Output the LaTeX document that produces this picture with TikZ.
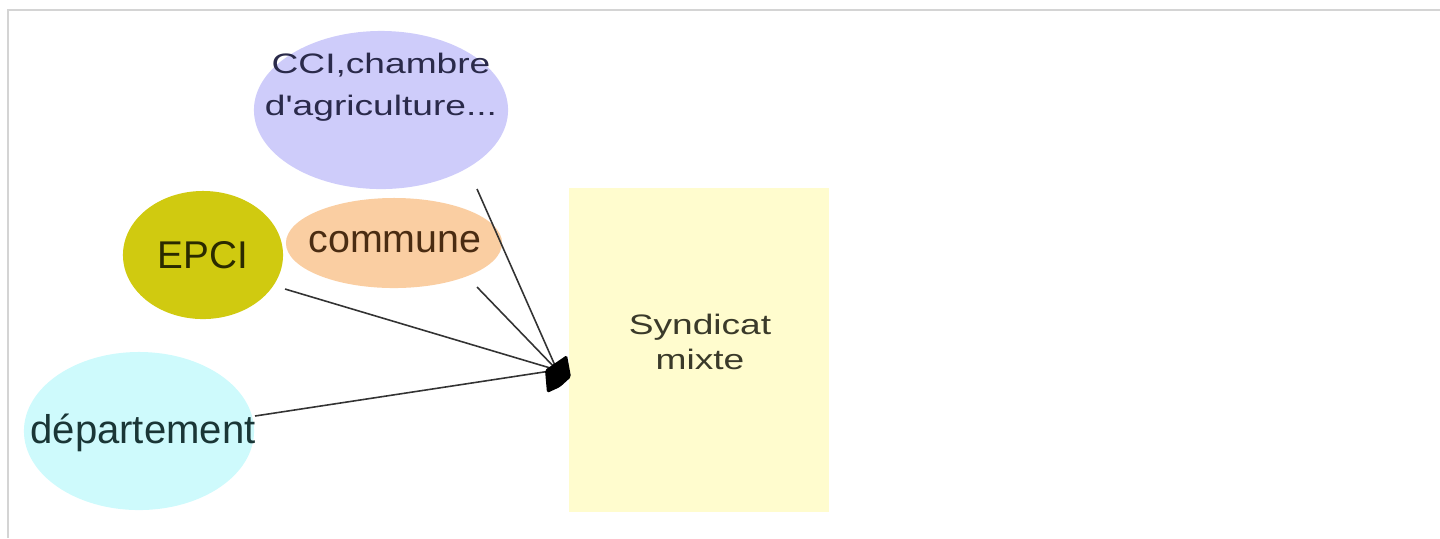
\documentclass[tikz,border=0pt]{standalone}
\usepackage{fontspec}
\setmainfont{Liberation Sans}
\newfontfamily\widefont[FakeStretch=1.32]{Liberation Sans}
\usetikzlibrary{shapes.geometric}

\definecolor{ccicol}{RGB}{206,204,250}
\definecolor{communecol}{RGB}{250,206,162}
\definecolor{epcicol}{RGB}{208,202,16}
\definecolor{deptcol}{RGB}{206,250,252}
\definecolor{syndcol}{RGB}{255,252,206}
\definecolor{framecol}{RGB}{212,212,212}

\tikzset{
  bubble/.style={ellipse, inner sep=0pt, draw=none},
  lbl/.style={align=center, inner sep=0pt, font=\fontsize{11.2}{13}\selectfont},
  widelbl/.style={align=center, inner sep=0pt, font=\widefont\fontsize{8}{12}\selectfont},
  link/.style={draw=black!80, line width=0.45pt}
}

\begin{document}
\begin{tikzpicture}[x=0.01cm, y=-0.01cm]
\useasboundingbox (0,0) rectangle (1440,538);
% page frame
\draw[framecol, line width=0.6pt] (8,538) -- (8,10) -- (1440,10);

% the members
\node[bubble, fill=ccicol, minimum width=2.54cm, minimum height=1.58cm] (cci) at (381,110) {};
\node[bubble, fill=communecol, minimum width=2.16cm, minimum height=0.9cm] (commune) at (394,243) {};
\node[bubble, fill=epcicol, minimum width=1.6cm, minimum height=1.28cm] (epci) at (203,255) {};
\node[bubble, fill=deptcol, minimum width=2.3cm, minimum height=1.58cm] (dept) at (139,431) {};
\node[fill=syndcol, minimum width=2.6cm, minimum height=3.24cm, inner sep=0pt] (synd) at (699,350) {};

\node[widelbl, text={rgb,255:red,42;green,42;blue,74}] (ccitext) at (cci.center) [yshift=0.23cm] {CCI,chambre\\d'agriculture...};
\node[lbl, text={rgb,255:red,74;green,44;blue,18}] (communetext) at (395,242) {commune};
\node[lbl, font=\fontsize{11}{13}\selectfont, text={rgb,255:red,42;green,42;blue,0}] (epcitext) at (203,255) {EPCI};
\node[lbl, font=\fontsize{11.4}{13}\selectfont, text={rgb,255:red,26;green,54;blue,54}] (depttext) at (143,433) {département};
\node[widelbl, font=\widefont\fontsize{8}{10}\selectfont, text={rgb,255:red,58;green,58;blue,42}] (syndtext) at (700,342) {Syndicat\\mixte};

% links into the syndicat
\coordinate (hub) at (557,370);
\coordinate (ccifoot) at (477,189);
\coordinate (communefoot) at (477,287);
\coordinate (epcifoot) at (285,289);
\coordinate (deptfoot) at (255,416);
\draw[link] (ccifoot) -- (hub);
\draw[link] (communefoot) -- (hub);
\draw[link] (epcifoot) -- (hub);
\draw[link] (deptfoot) -- (hub);
\fill[black, rounded corners=0.5pt] (545,370) -- (567,355) -- (571,377) -- (560,387) -- (547,393) -- cycle;
\end{tikzpicture}
\end{document}
